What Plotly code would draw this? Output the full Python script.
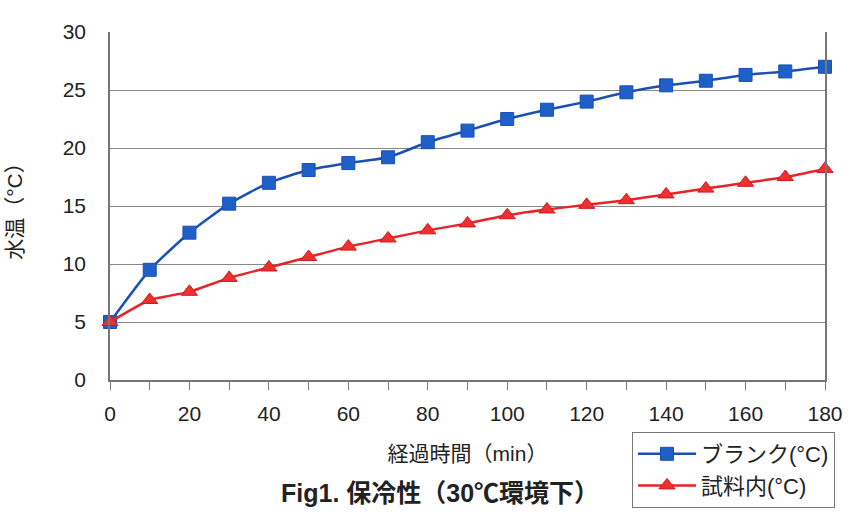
import plotly.graph_objects as go

# 経過時間 (min)
minutes = [0, 10, 20, 30, 40, 50, 60, 70, 80, 90, 100, 110, 120, 130, 140, 150, 160, 170, 180]

# 水温 (℃)
blank = [5.0, 9.5, 12.7, 15.2, 17.0, 18.1, 18.7, 19.2, 20.5, 21.5, 22.5, 23.3, 24.0, 24.8, 25.4, 25.8, 26.3, 26.6, 27.0]
sample = [5.0, 6.9, 7.6, 8.8, 9.7, 10.6, 11.5, 12.2, 12.9, 13.5, 14.2, 14.7, 15.1, 15.5, 16.0, 16.5, 17.0, 17.5, 18.2]

x_ticks = [0, 20, 40, 60, 80, 100, 120, 140, 160, 180]
y_ticks = [0, 5, 10, 15, 20, 25, 30]

FONT = "Liberation Sans, Arial, Noto Sans CJK JP, sans-serif"

# plot area in pixels (left, right, top, bottom)
L, R, T, B = 110, 825, 32, 380

fig = go.Figure()

fig.add_trace(go.Scatter(
    x=minutes, y=blank, name="ブランク(°C)",
    mode="lines+markers",
    line=dict(color="#1a4fb5", width=2.5, shape="spline", smoothing=0.5),
    marker=dict(symbol="square", size=13, color="#1f5fc8",
                line=dict(color="#1a4fb5", width=1)),
    cliponaxis=False,
))

fig.add_trace(go.Scatter(
    x=minutes, y=sample, name="試料内(°C)",
    mode="lines+markers",
    line=dict(color="#e8242a", width=2.5, shape="spline", smoothing=0.5),
    marker=dict(symbol="triangle-up", size=14, color="#f03030",
                line=dict(color="#d01818", width=1)),
    cliponaxis=False,
))

fig.update_layout(
    width=850, height=526,
    margin=dict(l=L, r=850 - R, t=T, b=526 - B, autoexpand=False),
    paper_bgcolor="white", plot_bgcolor="white",
    font=dict(family=FONT, size=20, color="#222"),
    showlegend=True,
    legend=dict(
        x=(632 - L) / (R - L), y=-(432 - B) / (B - T),
        xanchor="left", yanchor="top",
        bordercolor="#777", borderwidth=1, bgcolor="white",
        font=dict(size=22), tracegroupgap=2, itemwidth=58,
    ),
)

fig.update_xaxes(
    range=[0, 180], tickvals=x_ticks,
    ticks="outside", ticklen=8, tickcolor="#777",
    minor=dict(dtick=10, ticks="outside", ticklen=8, tickcolor="#777"),
    showline=True, linecolor="#777", linewidth=1.5,
    showgrid=False, zeroline=False,
    ticklabelstandoff=6,
    tickfont=dict(size=21),
    title=dict(text="経過時間（min）", font=dict(size=21), standoff=22),
)

fig.update_yaxes(
    range=[0, 30], tickvals=y_ticks,
    showline=True, linecolor="#777", linewidth=1.5, mirror=True,
    showgrid=True, gridcolor="#888", gridwidth=1.2,
    zeroline=False, ticks="", ticklabelstandoff=18,
    tickfont=dict(size=21),
    title=dict(text="水温（°C）", font=dict(size=21), standoff=34),
)

fig.add_annotation(
    text="<b>Fig1. 保冷性（30℃環境下）</b>", xref="paper", yref="paper",
    x=(440 - L) / (R - L), y=-(493 - B) / (B - T), showarrow=False,
    font=dict(size=25, color="#222"), xanchor="center", yanchor="middle",
)

fig.write_html("out.html", config={"displayModeBar": False},
               post_script="document.body.style.margin='0';")
